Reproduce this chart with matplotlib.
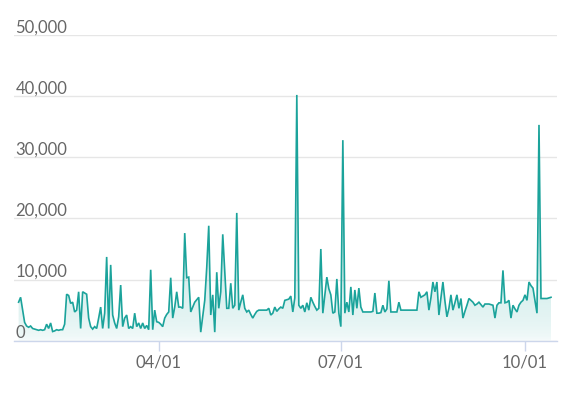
import numpy as np
import pandas as pd
import matplotlib
matplotlib.use("Agg")
import matplotlib.pyplot as plt
import matplotlib.dates as mdates
import matplotlib.transforms as mtransforms

# ---- data ----
start_date = "2023-01-21"
values = [
    6300, 7100, 5000, 3000, 2400, 2200, 2400, 2000, 1900, 1800,
    1700, 1800, 1700, 1800, 2700, 2000, 2900, 1500, 1600, 1800,
    1700, 1800, 1800, 2700, 7600, 7400, 6100, 6300, 4700, 5000,
    8000, 2000, 8000, 7800, 7600, 3700, 2300, 1900, 2300, 2000,
    3700, 5500, 2000, 4500, 13700, 2000, 12400, 4200, 2900, 2000,
    3900, 9100, 2300, 3700, 4200, 2000, 2300, 2000, 4500, 2300,
    2900, 2000, 2900, 2000, 2500, 1800, 11600, 1800, 5000, 3100,
    3000, 2700, 2300, 3700, 4300, 4700, 10300, 3700, 5500, 8000,
    5500, 5500, 5300, 17600, 10300, 10400, 4700, 5500, 6300, 6700,
    7100, 1400, 4000, 6600, 12000, 18800, 4200, 7500, 1400, 11200,
    5300, 8000, 17400, 11200, 5300, 5300, 9400, 5300, 5800, 20900,
    5000, 6300, 7500, 5300, 4700, 5000, 4300, 3700, 4300, 4800,
    5000, 5000, 5000, 5000, 5000, 5300, 4200, 4500, 5500, 4800,
    5200, 5500, 5300, 6600, 6700, 6800, 7300, 4700, 7000, 40200,
    5800, 5300, 5800, 4700, 6200, 5000, 7100, 6300, 5600, 5000,
    5300, 15000, 4500, 7500, 10400, 8500, 7500, 4500, 4700, 10100,
    4500, 2300, 32800, 4500, 6300, 4700, 8800, 4200, 8300, 5300,
    8600, 5500, 4700, 4700, 4700, 4700, 4700, 4800, 7800, 4500,
    4500, 4600, 5800, 4700, 5200, 9800, 4700, 4700, 4700, 4700,
    6300, 5000, 5000, 5000, 5000, 5000, 5000, 5000, 5000, 5000,
    8000, 7100, 7300, 7500, 8000, 5000, 7000, 9600, 8000, 9600,
    4200, 7000, 9600, 6500, 3900, 5300, 7500, 5000, 6200, 7500,
    5300, 6900, 3700, 4800, 5800, 6900, 6600, 6300, 5800, 6000,
    6300, 5900, 5500, 6000, 6000, 6000, 5900, 5800, 3700, 5800,
    6200, 6200, 11500, 6200, 6300, 6600, 3700, 5800, 5200, 4700,
    5800, 6300, 6600, 7500, 6600, 9600, 9000, 8600, 6500, 4500,
    35300, 6900, 6900, 6900, 6900, 7000, 7100,
]
x_tick_dates = ["2023-04-01", "2023-07-01", "2023-10-01"]
y_ticks = [0, 10000, 20000, 30000, 40000, 50000]

# ---- style ----
line_color = "#1ba39b"
text_color = "#666666"
font = ["Lato", "DejaVu Sans"]

dates = pd.date_range(start_date, periods=len(values), freq="D")
xnum = mdates.date2num(dates)
vals = np.array(values, dtype=float)

fig = plt.figure(figsize=(5.74, 3.97), dpi=100)
W, H = 574, 397
ax = fig.add_axes([14 / W, (H - 340.7) / H, (557 - 14) / W, (340.7 - 35) / H])

ax.set_ylim(0, 50000)
x0 = xnum[0] - 2.3
x1 = xnum[-1] + 3.0
ax.set_xlim(x0, x1)

# gradient fill
poly = ax.fill_between(xnum, 0, vals, color="none", lw=0)
grad_vals = np.linspace(0, 1, 256)[:, None]
alpha = 0.03 + 0.30 * np.sqrt(grad_vals)
rgba = np.zeros((256, 1, 4))
c = matplotlib.colors.to_rgb(line_color)
rgba[..., 0] = c[0]
rgba[..., 1] = c[1]
rgba[..., 2] = c[2]
rgba[..., 3] = alpha
img = ax.imshow(rgba, aspect="auto", origin="lower",
                extent=[x0, x1, 0, 42000], zorder=1, interpolation="bilinear")
img.set_clip_path(poly.get_paths()[0], transform=ax.transData)

ax.plot(xnum, vals, color=line_color, lw=1.2, zorder=3, solid_joinstyle="miter")

# grid
ax.set_yticks(y_ticks)
ax.yaxis.grid(True, color="#e6e6e6", lw=1)
ax.set_axisbelow(True)
ax.tick_params(axis="y", length=0, labelleft=False)

for s in ["top", "right", "left"]:
    ax.spines[s].set_visible(False)
ax.spines["bottom"].set_color("#ccd6eb")
ax.spines["bottom"].set_linewidth(1)
ax.spines["bottom"].set_zorder(4)

# y labels (above gridlines, left aligned)
blend = mtransforms.blended_transform_factory(ax.transAxes, ax.transData)
offset = mtransforms.ScaledTranslation(1.5 / 100, 2.5 / 100, fig.dpi_scale_trans)
for v in y_ticks:
    ax.text(0, v, f"{v:,}", transform=blend + offset, ha="left", va="baseline",
            fontsize=12, color=text_color, family=font, zorder=5)

# x ticks
ax.set_xticks(mdates.date2num(pd.to_datetime(x_tick_dates)))
ax.xaxis.set_major_formatter(mdates.DateFormatter("%m/%d"))
ax.tick_params(axis="x", length=7, width=1, color="#ccd6eb", pad=3,
               labelsize=12, labelcolor=text_color)
for lab in ax.get_xticklabels():
    lab.set_family(font)

fig.savefig("out.png", dpi=100)
